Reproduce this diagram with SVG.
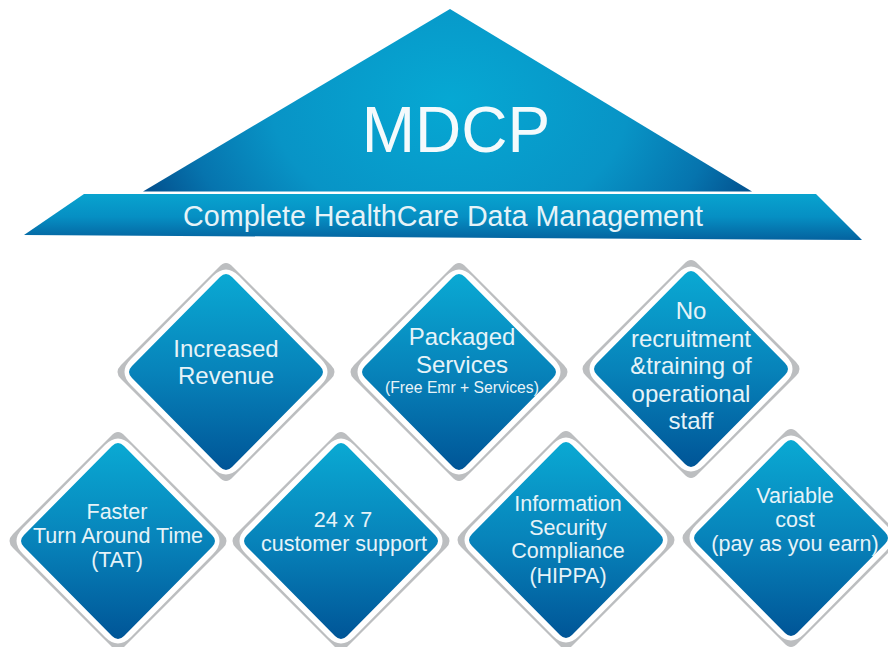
<svg xmlns="http://www.w3.org/2000/svg" xmlns:xlink="http://www.w3.org/1999/xlink" width="888" height="647" viewBox="0 0 888 647">
<style>
text{font-family:"Liberation Sans",Arial,sans-serif;fill:#e6f3f8;text-anchor:middle}
.t{font-size:21.5px}
.m{font-size:24px}
.g{fill:#bcbec0}
.w{fill:#fff}
.i{fill:url(#dg)}
</style>
<defs>
<linearGradient id="dg" x1="0" y1="0" x2="0" y2="1">
<stop offset="0" stop-color="#0aa9d3"/><stop offset="0.5" stop-color="#0783ba"/><stop offset="1" stop-color="#005597"/>
</linearGradient>
<radialGradient id="tg" gradientUnits="userSpaceOnUse" cx="450" cy="100" r="325" gradientTransform="translate(450 100) scale(1 .72) translate(-450 -100)">
<stop offset="0" stop-color="#06a8d3"/><stop offset="0.55" stop-color="#0894c6"/><stop offset="0.82" stop-color="#0674ae"/><stop offset="1" stop-color="#03528f"/>
</radialGradient>
<linearGradient id="bg" x1="0" y1="0" x2="0" y2="1">
<stop offset="0" stop-color="#08a3cf"/><stop offset="0.5" stop-color="#068fc3"/><stop offset="1" stop-color="#04629f"/>
</linearGradient>
<path id="dgrey" d="M-7,-105 Q0,-113 7,-105 L105,-7 Q112,0 105,7 L7,105 Q0,113 -7,105 L-105,7 Q-112,0 -105,-7 Z"/>
<path id="dwhite" d="M-13,-96 Q0,-109 13,-96 L95,-13 Q108,0 95,13 L13,96 Q0,109 -13,96 L-95,13 Q-108,0 -95,-13 Z"/>
<path id="dinner" d="M-6,-95 Q0,-101 6,-95 L94,-6 Q100,0 94,6 L6,95 Q0,101 -6,95 L-94,6 Q-100,0 -94,-6 Z"/>
<g id="d"><use xlink:href="#dgrey" class="g"/><use xlink:href="#dwhite" class="w"/><use xlink:href="#dinner" class="i"/></g>
</defs>
<rect width="888" height="647" fill="#fff"/>
<g id="roof">
<polygon points="450,9 752,191.500 143,191.500" fill="url(#tg)"/>
<text x="456" y="152" font-size="64" style="fill:#f4fafc">MDCP</text>
</g>
<g id="band">
<polygon points="84,194 816,194 862,240 24,235" fill="url(#bg)"/>
<text x="443" y="226" font-size="28.700" style="fill:#e6f3f8">Complete HealthCare Data Management</text>
</g>
<g id="increased-revenue">
<use xlink:href="#d" transform="translate(226,372)"/>
<text class="m" x="226" y="357">Increased</text><text class="m" x="226" y="384">Revenue</text>
</g>
<g id="packaged-services">
<use xlink:href="#d" transform="translate(459,372)"/>
<text class="m" x="462" y="345">Packaged</text><text class="m" x="462" y="373">Services</text>
<text x="462" y="393" font-size="15.700">(Free Emr + Services)</text>
</g>
<g id="no-recruitment">
<use xlink:href="#d" transform="translate(691,369)"/>
<text class="m" x="691" y="319">No</text><text class="m" x="691" y="347">recruitment</text><text class="m" x="691" y="374">&amp;training of</text><text class="m" x="691" y="402">operational</text><text class="m" x="691" y="429">staff</text>
</g>
<g id="faster-tat">
<use xlink:href="#d" transform="translate(118,541)"/>
<text class="t" x="117" y="519">Faster</text><text class="t" x="118" y="543">Turn Around Time</text><text class="t" x="117" y="567">(TAT)</text>
</g>
<g id="customer-support">
<use xlink:href="#d" transform="translate(341,541)"/>
<text class="t" x="343" y="527">24 x 7</text><text class="t" x="344" y="551">customer support</text>
</g>
<g id="security-compliance">
<use xlink:href="#d" transform="translate(566,540)"/>
<text class="t" x="568" y="511">Information</text><text class="t" x="568" y="535">Security</text><text class="t" x="568" y="558">Compliance</text><text class="t" x="568" y="583">(HIPPA)</text>
</g>
<g id="variable-cost">
<use xlink:href="#d" transform="translate(791,538)"/>
<text class="t" x="795" y="503">Variable</text><text class="t" x="795" y="527">cost</text><text class="t" x="795" y="551">(pay as you earn)</text>
</g>
</svg>
